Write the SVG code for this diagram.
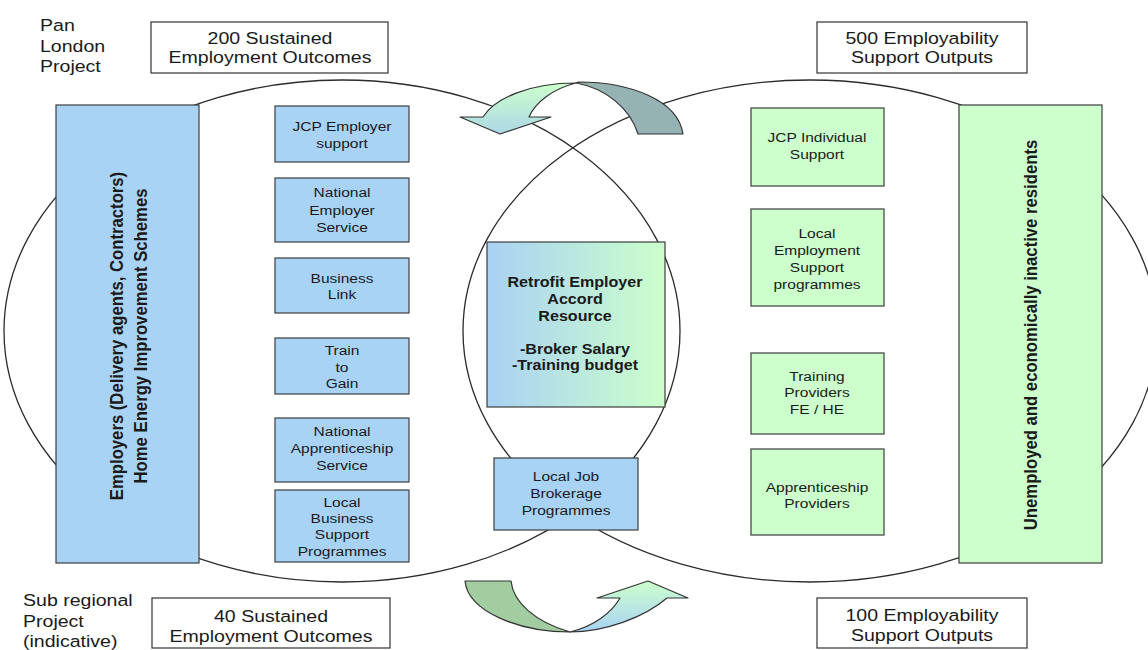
<svg xmlns="http://www.w3.org/2000/svg" width="1148" height="650" viewBox="0 0 1148 650">
<defs>
<linearGradient id="gRetro" x1="0" y1="0" x2="1" y2="0"><stop offset="0" stop-color="#A9D1F3"/><stop offset="1" stop-color="#CCFFCC"/></linearGradient>
<linearGradient id="gTopHead" x1="0" y1="0" x2="0" y2="1"><stop offset="0" stop-color="#CCFFCC"/><stop offset="1" stop-color="#ADD8E6"/></linearGradient>
<linearGradient id="gBotHead" x1="0" y1="0" x2="0" y2="1"><stop offset="0" stop-color="#CCFFCC"/><stop offset="1" stop-color="#A9D2F4"/></linearGradient>
<style>
.ell{fill:none;stroke:#2b2b2b;stroke-width:1.3}
.out{fill:#fff;stroke:#333;stroke-width:1.2}
.blue{fill:#A9D3F4;stroke:#3c3c3c;stroke-width:1.2}
.green{fill:#CCFFCC;stroke:#3c3c3c;stroke-width:1.2}
.retro{fill:url(#gRetro);stroke:#3c3c3c;stroke-width:1.2}
text{font-family:"Liberation Sans",Arial,sans-serif;fill:#1a1a1a}
.lab{font-size:17px}
.c{text-anchor:middle}
.sm{font-size:13.5px;text-anchor:middle}
.big{font-size:16.7px;font-weight:bold;text-anchor:middle}
.ret{font-size:14px;font-weight:bold;text-anchor:middle}
.arr{stroke:#333;stroke-width:1.2;stroke-linejoin:round}
</style>
</defs>

<g id="ellipses">
<ellipse class="ell" cx="342" cy="331" rx="338" ry="251"/>
<ellipse class="ell" cx="810" cy="331" rx="347" ry="251"/>
</g>

<g id="pan-london-label">
<text class="lab" transform="translate(40 0) scale(1.15 1)"><tspan x="0" y="31">Pan</tspan><tspan x="0" y="52">London</tspan><tspan x="0" y="72">Project</tspan></text>
</g>
<g id="sub-regional-label">
<text class="lab" transform="translate(23 0) scale(1.15 1)"><tspan x="0" y="606">Sub regional</tspan><tspan x="0" y="627">Project</tspan><tspan x="0" y="647">(indicative)</tspan></text>
</g>

<g id="out-200">
<rect class="out" x="151" y="22" width="237" height="51"/>
<text class="lab c" transform="translate(270 0) scale(1.15 1)"><tspan x="0" y="44">200 Sustained</tspan><tspan x="0" y="63">Employment Outcomes</tspan></text>
</g>
<g id="out-500">
<rect class="out" x="817" y="22" width="210" height="51"/>
<text class="lab c" transform="translate(922 0) scale(1.15 1)"><tspan x="0" y="44">500 Employability</tspan><tspan x="0" y="63">Support Outputs</tspan></text>
</g>
<g id="out-40">
<rect class="out" x="152" y="598" width="238" height="50"/>
<text class="lab c" transform="translate(271 0) scale(1.15 1)"><tspan x="0" y="622">40 Sustained</tspan><tspan x="0" y="642">Employment Outcomes</tspan></text>
</g>
<g id="out-100">
<rect class="out" x="817" y="598" width="210" height="50"/>
<text class="lab c" transform="translate(922 0) scale(1.15 1)"><tspan x="0" y="621">100 Employability</tspan><tspan x="0" y="641">Support Outputs</tspan></text>
</g>

<g id="employers">
<rect class="blue" x="56" y="105" width="143" height="458"/>
<text class="big" transform="translate(127 336) scale(1.15 1) rotate(-90)"><tspan x="0" y="-3.5">Employers (Delivery agents, Contractors)</tspan><tspan x="0" y="17.4">Home Energy Improvement Schemes</tspan></text>
</g>
<g id="residents">
<rect class="green" x="959" y="105" width="143" height="458"/>
<text class="big" transform="translate(1031 335) scale(1.15 1) rotate(-90)"><tspan x="0" y="5.2">Unemployed and economically inactive residents</tspan></text>
</g>

<g id="jcp-employer">
<rect class="blue" x="275" y="106" width="134" height="56"/>
<text class="sm" transform="translate(342 0) scale(1.15 1)"><tspan x="0" y="131">JCP Employer</tspan><tspan x="0" y="148">support</tspan></text>
</g>
<g id="national-employer">
<rect class="blue" x="275" y="178" width="134" height="64"/>
<text class="sm" transform="translate(342 0) scale(1.15 1)"><tspan x="0" y="197">National</tspan><tspan x="0" y="215">Employer</tspan><tspan x="0" y="232">Service</tspan></text>
</g>
<g id="business-link">
<rect class="blue" x="275" y="258" width="134" height="55"/>
<text class="sm" transform="translate(342 0) scale(1.15 1)"><tspan x="0" y="283">Business</tspan><tspan x="0" y="299">Link</tspan></text>
</g>
<g id="train-to-gain">
<rect class="blue" x="275" y="338" width="134" height="56"/>
<text class="sm" transform="translate(342 0) scale(1.15 1)"><tspan x="0" y="355">Train</tspan><tspan x="0" y="372">to</tspan><tspan x="0" y="388">Gain</tspan></text>
</g>
<g id="national-apprenticeship">
<rect class="blue" x="275" y="418" width="134" height="64"/>
<text class="sm" transform="translate(342 0) scale(1.15 1)"><tspan x="0" y="436">National</tspan><tspan x="0" y="453">Apprenticeship</tspan><tspan x="0" y="470">Service</tspan></text>
</g>
<g id="local-business">
<rect class="blue" x="275" y="490" width="134" height="72"/>
<text class="sm" transform="translate(342 0) scale(1.15 1)"><tspan x="0" y="507">Local</tspan><tspan x="0" y="523">Business</tspan><tspan x="0" y="539">Support</tspan><tspan x="0" y="556">Programmes</tspan></text>
</g>

<g id="retrofit">
<rect class="retro" x="487" y="242" width="178" height="165"/>
<text class="ret" transform="translate(575 0) scale(1.15 1)"><tspan x="0" y="287">Retrofit Employer</tspan><tspan x="0" y="304">Accord</tspan><tspan x="0" y="321">Resource</tspan><tspan x="0" y="354">-Broker Salary</tspan><tspan x="0" y="370">-Training budget</tspan></text>
</g>
<g id="local-job-brokerage">
<rect class="blue" x="494" y="458" width="144" height="72"/>
<text class="sm" transform="translate(566 0) scale(1.15 1)"><tspan x="0" y="481">Local Job</tspan><tspan x="0" y="498">Brokerage</tspan><tspan x="0" y="515">Programmes</tspan></text>
</g>

<g id="jcp-individual">
<rect class="green" x="751" y="108" width="133" height="78"/>
<text class="sm" transform="translate(817 0) scale(1.15 1)"><tspan x="0" y="142">JCP Individual</tspan><tspan x="0" y="159">Support</tspan></text>
</g>
<g id="local-employment">
<rect class="green" x="751" y="209" width="133" height="97"/>
<text class="sm" transform="translate(817 0) scale(1.15 1)"><tspan x="0" y="238">Local</tspan><tspan x="0" y="255">Employment</tspan><tspan x="0" y="272">Support</tspan><tspan x="0" y="289">programmes</tspan></text>
</g>
<g id="training-providers">
<rect class="green" x="751" y="353" width="133" height="81"/>
<text class="sm" transform="translate(817 0) scale(1.15 1)"><tspan x="0" y="381">Training</tspan><tspan x="0" y="397">Providers</tspan><tspan x="0" y="414">FE / HE</tspan></text>
</g>
<g id="apprenticeship-providers">
<rect class="green" x="751" y="449" width="133" height="86"/>
<text class="sm" transform="translate(817 0) scale(1.15 1)"><tspan x="0" y="492">Apprenticeship</tspan><tspan x="0" y="508">Providers</tspan></text>
</g>

<g id="connectors">
<path class="arr" fill="#95B3B3" d="M578,82 C630,82 678,100 683,134 L638,134 C630,108 605,88 576,83 Z"/>
<path class="arr" fill="url(#gTopHead)" d="M576,83 C530,83 495,98 483,117 L460,117 L500,134 L551,117 L529,117 C535,103 552,89 576,83 Z"/>
<path class="arr" fill="#A1CDA1" d="M465,581 L511,581 C513,602 535,622 570,632 C520,632 468,612 465,581 Z"/>
<path class="arr" fill="url(#gBotHead)" d="M570,632 C605,632 645,617 667,598 L688,598 L648,581 L597,598 L620,598 C612,612 595,626 570,632 Z"/>
</g>
</svg>
